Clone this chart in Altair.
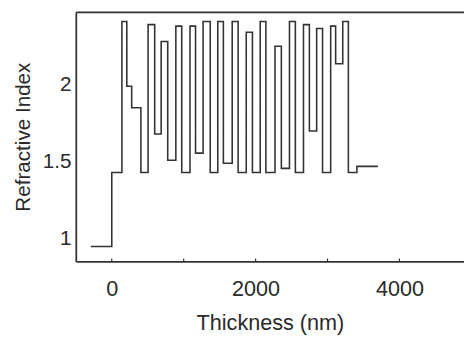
import altair as alt
import pandas as pd

# Layer boundaries (nm) and refractive index of each layer
boundaries = [-290, 0, 141, 209, 277, 405, 505, 597, 687, 778, 891, 973, 1088,
              1165, 1270, 1369, 1474, 1552, 1675, 1757, 1870, 1956, 2064, 2143,
              2270, 2358, 2471, 2553, 2666, 2748, 2849, 2931, 3044, 3113, 3212,
              3290, 3409, 3700]
indices = [0.95, 1.43, 2.41, 1.99, 1.85, 1.43, 2.39, 1.68, 2.28, 1.51, 2.38,
           1.43, 2.38, 1.556, 2.41, 1.43, 2.41, 1.49, 2.41, 1.43, 2.34, 1.43,
           2.41, 1.43, 2.25, 1.457, 2.41, 1.43, 2.39, 1.70, 2.365, 1.43, 2.38,
           2.136, 2.41, 1.43, 1.47]

x_ticks = [0, 1000, 2000, 3000, 4000]
y_ticks = [1, 1.5, 2]

df = pd.DataFrame({"t": boundaries, "n": indices + [indices[-1]]})
ticks_df = pd.DataFrame({"t": x_ticks})

FONT = "Liberation Sans"
TXT = "#2a2a2a"
LINE = "#333333"

xscale = alt.Scale(domain=[-500, 4898], nice=False, zero=False)
yscale = alt.Scale(domain=[0.853, 2.473], nice=False, zero=False)

profile = alt.Chart(df).mark_line(
    interpolate="step-after", color=LINE, strokeWidth=1.6
).encode(
    x=alt.X("t:Q", scale=xscale, title="Thickness (nm)",
            axis=alt.Axis(values=x_ticks, format="d",
                          labelExpr="datum.value % 2000 == 0 ? datum.label : ''",
                          ticks=False, grid=False, domainColor=LINE, domainWidth=1.8,
                          labelFont=FONT, labelFontSize=22, labelColor=TXT,
                          labelPadding=18, titleFont=FONT, titleFontSize=22,
                          titleFontWeight="normal", titleColor=TXT, titlePadding=13,
                          labelFlush=False)),
    y=alt.Y("n:Q", scale=yscale, title="Refractive Index",
            axis=alt.Axis(values=y_ticks, format="~g", ticks=False, grid=False,
                          domainColor=LINE, domainWidth=1.8,
                          labelFont=FONT, labelFontSize=21, labelColor=TXT,
                          labelPadding=5, titleFont=FONT, titleFontSize=21,
                          titleFontWeight="normal", titleColor=TXT, titlePadding=9,
                          labelFlush=False)),
)

top_border = alt.Chart(df).mark_line(opacity=0).encode(
    x=alt.X("t:Q", scale=xscale,
            axis=alt.Axis(orient="top", labels=False, ticks=False, grid=False,
                          title=None, domainColor=LINE, domainWidth=1.8)),
    y=alt.Y("n:Q", scale=yscale),
)

minor_ticks = alt.Chart(ticks_df).mark_rule(color=LINE, strokeWidth=1.2).encode(
    x=alt.X("t:Q", scale=xscale, axis=None),
    y=alt.value(254),
    y2=alt.value(251),
)

chart = alt.layer(profile, top_border, minor_ticks).resolve_axis(
    x="independent"
).properties(
    width=395, height=254,
    autosize=alt.AutoSizeParams(type="none"),
    padding={"left": 69, "top": 1, "right": 0, "bottom": 75},
).configure_view(stroke=None)

chart.save("out.html", embed_options={"renderer": "svg", "actions": False})
